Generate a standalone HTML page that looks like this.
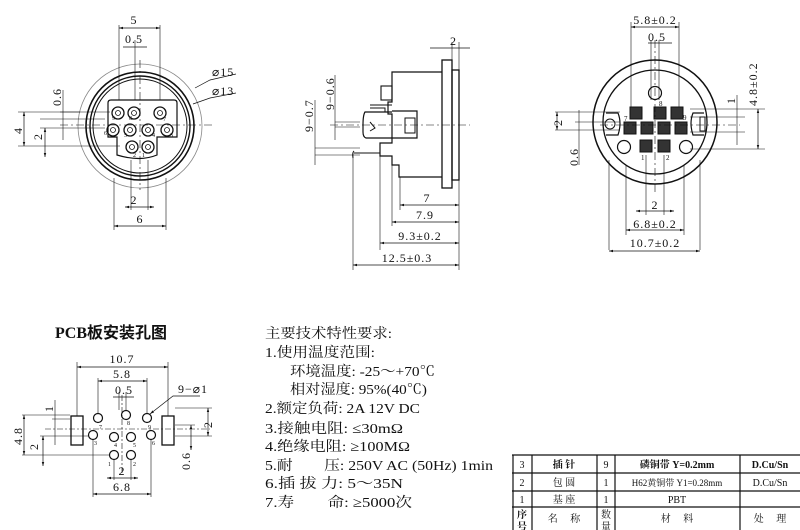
<!DOCTYPE html>
<html><head><meta charset="utf-8"><style>
body{margin:0;background:#fff}
svg{display:block}
text{font-family:"Liberation Serif","Noto Serif CJK SC",serif;fill:#111}
.cj{font-family:"Liberation Serif","Noto Sans CJK SC",sans-serif}
.d text{letter-spacing:1px}
</style></head><body>
<svg width="800" height="530" viewBox="0 0 800 530" xmlns="http://www.w3.org/2000/svg">
<defs>
<marker id="a" viewBox="0 0 10 10" refX="10" refY="5" markerWidth="6" markerHeight="6" orient="auto-start-reverse"><path d="M0,2 L10,5 L0,8z" fill="#111"/></marker>
</defs>
<g stroke="#111" fill="none" stroke-width="1">
<!-- LEFT FRONT VIEW -->
<circle cx="140" cy="126" r="62" stroke="#888" stroke-width="0.8"/>
<circle cx="140" cy="126" r="54" stroke-width="1.6"/>
<circle cx="140" cy="126" r="50" stroke-width="1.4"/>
<circle cx="140" cy="126" r="47"/>
<path d="M108,103 Q108,100 111,100 L174,100 Q177,100 177,103 L177,137 L157,137 L157,155 Q140,162 117,155 L117,137 L108,137 Z" stroke-width="1.2"/>
<g stroke-width="1.3">
<circle cx="118" cy="113" r="6"/><circle cx="134" cy="113" r="6"/><circle cx="160" cy="113" r="6"/>
<circle cx="113" cy="130" r="6"/><circle cx="130" cy="130" r="6"/><circle cx="148" cy="130" r="6"/><circle cx="167" cy="130" r="6"/>
<circle cx="132" cy="147" r="6"/><circle cx="148" cy="147" r="6"/>
</g>
<g stroke-width="0.8">
<circle cx="118" cy="113" r="2.5"/><circle cx="134" cy="113" r="2.5"/><circle cx="160" cy="113" r="2.5"/>
<circle cx="113" cy="130" r="2.5"/><circle cx="130" cy="130" r="2.5"/><circle cx="148" cy="130" r="2.5"/><circle cx="167" cy="130" r="2.5"/>
<circle cx="132" cy="147" r="2.5"/><circle cx="148" cy="147" r="2.5"/>
</g>
<g stroke-width="0.6">
<line x1="140" y1="60" x2="140" y2="190" stroke-dasharray="8,3,2,3"/>
<line x1="60" y1="125" x2="212" y2="125" stroke-dasharray="8,3,2,3"/>
<line x1="119" y1="25" x2="119" y2="100"/><line x1="160" y1="25" x2="160" y2="100"/>
<line x1="135" y1="40" x2="135" y2="100"/>
<line x1="114" y1="178" x2="114" y2="230"/><line x1="166" y1="178" x2="166" y2="230"/>
<line x1="131" y1="160" x2="131" y2="210"/><line x1="148" y1="160" x2="148" y2="210"/>
<line x1="18" y1="112" x2="110" y2="112"/><line x1="18" y1="146" x2="120" y2="146"/>
<line x1="40" y1="128" x2="105" y2="128"/><line x1="40" y1="119" x2="105" y2="119"/>
<line x1="60" y1="112" x2="80" y2="112"/>
</g>
<g stroke-width="0.7" marker-start="url(#a)" marker-end="url(#a)">
<line x1="119" y1="28" x2="160" y2="28"/>
<line x1="114" y1="226" x2="166" y2="226"/>
<line x1="125" y1="207" x2="154" y2="207"/>
<line x1="24" y1="112" x2="24" y2="146"/>
<line x1="45" y1="128" x2="45" y2="157"/>
</g>
<line x1="123" y1="47" x2="147" y2="47" stroke-width="0.7"/>
<line x1="63" y1="90" x2="63" y2="140" stroke-width="0.6"/>
<polyline points="236,74 210,80 195,88" stroke-width="0.7"/>
<polyline points="236,93 210,98 193,104" stroke-width="0.7"/>

<!-- SIDE VIEW -->
<rect x="442" y="60" width="10" height="128" stroke-width="1.3"/>
<rect x="452" y="70" width="7" height="110" stroke-width="1.3"/>
<path d="M442,72 L392,72 L392,102 L388,102 L388,114 L392,114 L392,143 L380,143 L380,156 L392,156 L392,165 L399,165 L399,177 L442,177" stroke-width="1.2"/>
<rect x="381" y="86" width="11" height="14" stroke-width="1.1"/>
<path d="M392,112 L365,112 Q363,115 363,125 L363,132 Q363,137 366,138 L417,138 L417,111 L392,111" stroke-width="1.2"/>
<rect x="405" y="118" width="10" height="15" stroke-width="1"/>
<path d="M370,108 L385,108 L385,112 M370,105 L392,105 M370,122 L375,128 L370,131" stroke-width="1"/>
<path d="M354,153 L380,153 M354,151 Q352,153 353,158" stroke-width="1"/>
<line x1="330" y1="125" x2="470" y2="125" stroke-dasharray="8,3,2,3" stroke-width="0.6"/>
<g stroke-width="0.6">
<line x1="452" y1="42" x2="452" y2="60"/><line x1="459" y1="42" x2="459" y2="270"/>
<line x1="400" y1="177" x2="400" y2="210"/><line x1="392" y1="165" x2="392" y2="226"/>
<line x1="380" y1="156" x2="380" y2="250"/><line x1="353" y1="153" x2="353" y2="270"/>
<line x1="335" y1="122" x2="360" y2="122"/><line x1="335" y1="127" x2="360" y2="127"/>
<line x1="315" y1="148" x2="360" y2="148"/><line x1="315" y1="155" x2="360" y2="155"/>
<line x1="335" y1="75" x2="335" y2="140"/><line x1="315" y1="100" x2="315" y2="165"/>
</g>
<g stroke-width="0.7" marker-start="url(#a)" marker-end="url(#a)">
<line x1="400" y1="205" x2="459" y2="205"/>
<line x1="392" y1="222" x2="459" y2="222"/>
<line x1="380" y1="243" x2="459" y2="243"/>
<line x1="353" y1="265" x2="459" y2="265"/>
</g>
<line x1="430" y1="48" x2="470" y2="48" stroke-width="0.7"/>

<!-- RIGHT FRONT VIEW -->
<circle cx="655" cy="122" r="62" stroke-width="1.5"/>
<circle cx="655" cy="122" r="52" stroke-width="1.3"/>
<circle cx="655" cy="93" r="6.5" stroke-width="1.2"/>
<circle cx="624" cy="147" r="6.5" stroke-width="1.2"/>
<circle cx="686" cy="147" r="6.5" stroke-width="1.2"/>
<path d="M606,113 L618,113 Q622,123 618,135 L606,135" stroke-width="1.2"/>
<circle cx="610" cy="124" r="5" stroke-width="1"/>
<path d="M704,113 L693,113 Q689,123 693,135 L704,135" stroke-width="1.2"/>
<rect x="700" y="117" width="5" height="14" stroke-width="1"/>
<g fill="#333" stroke="#111" stroke-width="1">
<rect x="630" y="107" width="12" height="12"/><rect x="654" y="107" width="12" height="12"/><rect x="671" y="107" width="12" height="12"/>
<rect x="624" y="122" width="12" height="12"/><rect x="641" y="122" width="12" height="12"/><rect x="658" y="122" width="12" height="12"/><rect x="675" y="122" width="12" height="12"/>
<rect x="640" y="140" width="12" height="12"/><rect x="658" y="140" width="12" height="12"/>
</g>
<g stroke-width="0.6">
<line x1="655" y1="40" x2="655" y2="195" stroke-dasharray="8,3,2,3"/>
<line x1="600" y1="125" x2="740" y2="125" stroke-dasharray="8,3,2,3"/>
<line x1="631" y1="22" x2="631" y2="107"/><line x1="679" y1="22" x2="679" y2="107"/>
<line x1="651" y1="40" x2="651" y2="100"/><line x1="659" y1="40" x2="659" y2="100"/>
<line x1="609" y1="160" x2="609" y2="250"/><line x1="700" y1="160" x2="700" y2="250"/>
<line x1="626" y1="165" x2="626" y2="235"/><line x1="684" y1="165" x2="684" y2="235"/>
<line x1="646" y1="155" x2="646" y2="215"/><line x1="664" y1="155" x2="664" y2="215"/>
<line x1="555" y1="112" x2="620" y2="112"/><line x1="555" y1="130" x2="620" y2="130"/>
<line x1="575" y1="122" x2="620" y2="122"/>
<line x1="690" y1="109" x2="765" y2="109"/><line x1="690" y1="149" x2="765" y2="149"/>
<line x1="690" y1="117" x2="745" y2="117"/><line x1="690" y1="132" x2="745" y2="132"/>
</g>
<g stroke-width="0.7" marker-start="url(#a)" marker-end="url(#a)">
<line x1="631" y1="27" x2="679" y2="27"/>
<line x1="609" y1="251" x2="700" y2="251"/>
<line x1="626" y1="230" x2="684" y2="230"/>
<line x1="636" y1="211" x2="674" y2="211"/>
<line x1="758" y1="109" x2="758" y2="149"/>
<line x1="557" y1="112" x2="557" y2="130"/>
</g>
<line x1="648" y1="43" x2="672" y2="43" stroke-width="0.7"/>
<line x1="579" y1="110" x2="579" y2="165" stroke-width="0.6"/>
<line x1="737" y1="95" x2="737" y2="145" stroke-width="0.6"/>

<!-- PCB -->
<rect x="71" y="416" width="12" height="29" stroke-width="1.3"/>
<rect x="162" y="416" width="12" height="29" stroke-width="1.3"/>
<g stroke-width="1.2">
<circle cx="98" cy="418" r="4.5"/><circle cx="126" cy="415" r="4.5"/><circle cx="147" cy="418" r="4.5"/>
<circle cx="93" cy="435" r="4.5"/><circle cx="114" cy="437" r="4.5"/><circle cx="131" cy="437" r="4.5"/><circle cx="151" cy="435" r="4.5"/>
<circle cx="114" cy="455" r="4.5"/><circle cx="131" cy="455" r="4.5"/>
</g>
<g stroke-width="0.6">
<line x1="122" y1="395" x2="122" y2="475" stroke-dasharray="6,2,2,2"/>
<line x1="45" y1="429" x2="210" y2="429" stroke-dasharray="6,2,2,2"/>
<line x1="77" y1="362" x2="77" y2="416"/><line x1="168" y1="362" x2="168" y2="416"/>
<line x1="98" y1="378" x2="98" y2="413"/><line x1="147" y1="378" x2="147" y2="413"/>
<line x1="119" y1="392" x2="119" y2="410"/><line x1="126" y1="392" x2="126" y2="410"/>
<line x1="93" y1="440" x2="93" y2="497"/><line x1="151" y1="440" x2="151" y2="497"/>
<line x1="114" y1="460" x2="114" y2="480"/><line x1="131" y1="460" x2="131" y2="480"/>
<line x1="22" y1="415" x2="70" y2="415"/><line x1="22" y1="455" x2="110" y2="455"/>
<line x1="40" y1="436" x2="88" y2="436"/><line x1="52" y1="419" x2="70" y2="419"/>
<line x1="175" y1="408" x2="212" y2="408"/><line x1="175" y1="436" x2="212" y2="436"/>
<line x1="175" y1="425" x2="195" y2="425"/>
</g>
<g stroke-width="0.7" marker-start="url(#a)" marker-end="url(#a)">
<line x1="77" y1="367" x2="168" y2="367"/>
<line x1="98" y1="381" x2="147" y2="381"/>
<line x1="93" y1="494" x2="151" y2="494"/>
<line x1="107" y1="478" x2="138" y2="478"/>
<line x1="24" y1="415" x2="24" y2="455"/>
<line x1="43" y1="436" x2="43" y2="466"/>
<line x1="208" y1="408" x2="208" y2="436"/>
<line x1="191" y1="425" x2="191" y2="450"/>
</g>
<line x1="113" y1="397" x2="134" y2="397" stroke-width="0.7"/>
<line x1="55" y1="400" x2="55" y2="445" stroke-width="0.6"/>
<polyline points="200,396 173,396 150,414" stroke-width="0.7" marker-end="url(#a)"/>

<!-- TABLE -->
<g stroke-width="1.2">
<line x1="512" y1="455" x2="800" y2="455"/>
<line x1="512" y1="473" x2="800" y2="473"/>
<line x1="512" y1="491" x2="800" y2="491"/>
<line x1="512" y1="507" x2="800" y2="507"/>
<line x1="513" y1="455" x2="513" y2="530"/>
<line x1="532" y1="455" x2="532" y2="530"/>
<line x1="597" y1="455" x2="597" y2="530"/>
<line x1="615" y1="455" x2="615" y2="530"/>
<line x1="740" y1="455" x2="740" y2="530"/>
</g>
</g>

<!-- TEXT left view -->
<g font-size="12" class="d">
<text x="134" y="24" text-anchor="middle">5</text>
<text x="134" y="43" text-anchor="middle">0.5</text>
<text x="212" y="76">⌀15</text>
<text x="212" y="95">⌀13</text>
<text x="134" y="204" text-anchor="middle">2</text>
<text x="140" y="223" text-anchor="middle">6</text>
<text transform="translate(61,106) rotate(-90)">0.6</text>
<text transform="translate(22,134) rotate(-90)">4</text>
<text transform="translate(42,140) rotate(-90)">2</text>
</g>
<g font-size="6">
<text x="112" y="120">9</text><text x="129" y="120">8</text><text x="163" y="121">7</text>
<text x="104" y="135">6</text><text x="124" y="137">5</text><text x="152" y="137">4</text><text x="170" y="137">3</text>
<text x="133" y="157">2</text><text x="142" y="157">1</text>
</g>
<!-- side view text -->
<g font-size="12" class="d">
<text x="450" y="45">2</text>
<text x="427" y="202" text-anchor="middle">7</text>
<text x="425" y="219" text-anchor="middle">7.9</text>
<text x="420" y="240" text-anchor="middle">9.3±0.2</text>
<text x="407" y="262" text-anchor="middle">12.5±0.3</text>
<text transform="translate(334,110) rotate(-90)">9−0.6</text>
<text transform="translate(313,132) rotate(-90)">9−0.7</text>
</g>
<!-- right view text -->
<g font-size="12" class="d">
<text x="655" y="24" text-anchor="middle">5.8±0.2</text>
<text x="657" y="41" text-anchor="middle">0.5</text>
<text x="655" y="209" text-anchor="middle">2</text>
<text x="655" y="228" text-anchor="middle">6.8±0.2</text>
<text x="655" y="247" text-anchor="middle">10.7±0.2</text>
<text transform="translate(562,126) rotate(-90)">2</text>
<text transform="translate(578,166) rotate(-90)">0.6</text>
<text transform="translate(735,104) rotate(-90)">1</text>
<text transform="translate(757,106) rotate(-90)">4.8±0.2</text>
</g>
<g font-size="7">
<text x="624" y="121">7</text><text x="659" y="106">8</text><text x="683" y="120">9</text>
<text x="641" y="160">1</text><text x="666" y="160">2</text>
</g>
<!-- PCB text -->
<text x="55" y="338" font-size="16" font-weight="bold" class="cj">PCB板安装孔图</text>
<g font-size="12" class="d">
<text x="122" y="363" text-anchor="middle">10.7</text>
<text x="122" y="378" text-anchor="middle">5.8</text>
<text x="124" y="394" text-anchor="middle">0.5</text>
<text x="178" y="393">9−⌀1</text>
<text x="122" y="475" text-anchor="middle">2</text>
<text x="122" y="491" text-anchor="middle">6.8</text>
<text transform="translate(53,412) rotate(-90)">1</text>
<text transform="translate(22,445) rotate(-90)">4.8</text>
<text transform="translate(38,450) rotate(-90)">2</text>
<text transform="translate(212,428) rotate(-90)">2</text>
<text transform="translate(190,470) rotate(-90)">0.6</text>
</g>
<g font-size="6">
<text x="99" y="429">7</text><text x="127" y="425">8</text><text x="148" y="429">9</text>
<text x="94" y="445">3</text><text x="114" y="447">4</text><text x="133" y="447">5</text><text x="152" y="445">6</text>
<text x="108" y="466">1</text><text x="133" y="466">2</text>
</g>
<!-- spec text -->
<g font-size="14" class="cj" lengthAdjust="spacingAndGlyphs">
<text x="265" y="338" textLength="127" lengthAdjust="spacingAndGlyphs">主要技术特性要求:</text>
<text x="265" y="357" textLength="110" lengthAdjust="spacingAndGlyphs">1.使用温度范围:</text>
<text x="290" y="376" textLength="145" lengthAdjust="spacingAndGlyphs">环境温度: -25～+70℃</text>
<text x="290" y="394" textLength="137" lengthAdjust="spacingAndGlyphs">相对湿度: 95%(40℃)</text>
<text x="265" y="413" textLength="155" lengthAdjust="spacingAndGlyphs">2.额定负荷: 2A 12V DC</text>
<text x="265" y="433" textLength="138" lengthAdjust="spacingAndGlyphs">3.接触电阻: ≤30mΩ</text>
<text x="265" y="451" textLength="145" lengthAdjust="spacingAndGlyphs">4.绝缘电阻: ≥100MΩ</text>
<text x="265" y="470" textLength="228" lengthAdjust="spacingAndGlyphs">5.耐　　压: 250V AC (50Hz) 1min</text>
<text x="265" y="488" textLength="138" lengthAdjust="spacingAndGlyphs">6.插 拔 力: 5～35N</text>
<text x="265" y="507" textLength="147" lengthAdjust="spacingAndGlyphs">7.寿　　命: ≥5000次</text>
</g>
<!-- table text -->
<g font-size="10" class="cj" text-anchor="middle">
<text x="522" y="468">3</text><text x="564" y="468" font-weight="bold">插 针</text><text x="606" y="468">9</text><text x="677" y="468" font-weight="bold">磷铜带 Y=0.2mm</text><text x="770" y="468" font-weight="bold">D.Cu/Sn</text>
<text x="522" y="486">2</text><text x="564" y="486">包 圆</text><text x="606" y="486">1</text><text x="677" y="486" font-size="9">H62黄铜带 Y1=0.28mm</text><text x="770" y="486">D.Cu/Sn</text>
<text x="522" y="503">1</text><text x="564" y="503">基 座</text><text x="606" y="503">1</text><text x="677" y="503">PBT</text>
<text x="522" y="518" font-weight="bold">序</text><text x="522" y="530" font-weight="bold">号</text>
<text x="564" y="522">名　 称</text>
<text x="606" y="518">数</text><text x="606" y="530">量</text>
<text x="677" y="522">材　 料</text>
<text x="770" y="522">处　 理</text>
</g>
</svg>
</body></html>
